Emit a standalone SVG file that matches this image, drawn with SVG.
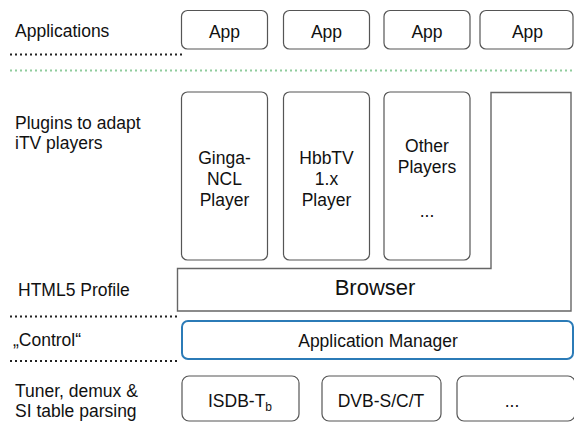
<svg xmlns="http://www.w3.org/2000/svg" width="574" height="422" viewBox="0 0 574 422">
<style>
text{font-family:"Liberation Sans",Arial,Helvetica,sans-serif;font-size:17.5px;fill:#111}
.c{text-anchor:middle}
.box{fill:#fff;stroke:#555;stroke-width:1.2}
.dotk{stroke:#222;stroke-width:2;stroke-dasharray:2 3;fill:none}
.dotg{stroke:#8fcc9c;stroke-width:2;stroke-dasharray:2 3;fill:none}
</style>
<rect width="574" height="422" fill="#fff"/>
<g id="separators">
<line class="dotk" x1="10" y1="54.5" x2="183" y2="54.5"/>
<line class="dotg" x1="10" y1="70.5" x2="574" y2="70.5"/>
<line class="dotk" x1="10" y1="316.5" x2="178" y2="316.5"/>
<line class="dotk" x1="10" y1="361" x2="178" y2="361"/>
</g>
<g id="layer-labels">
<text x="15" y="37">Applications</text>
<text x="15" y="129">Plugins to adapt</text>
<text x="15" y="149">iTV players</text>
<text x="18" y="296">HTML5 Profile</text>
<text x="13" y="346">„Control“</text>
<text x="15" y="396.5">Tuner, demux &amp;</text>
<text x="15" y="416.5">SI table parsing</text>
</g>
<g id="app1"><rect class="box" x="181.5" y="10.5" width="86" height="38.5" rx="6"/><text class="c" x="224.5" y="37.5">App</text></g>
<g id="app2"><rect class="box" x="283.5" y="10.5" width="86" height="38.5" rx="6"/><text class="c" x="326.5" y="37.5">App</text></g>
<g id="app3"><rect class="box" x="384" y="10.5" width="86" height="38.5" rx="6"/><text class="c" x="427" y="37.5">App</text></g>
<g id="app4"><rect class="box" x="480" y="10.5" width="93" height="38.5" rx="6"/><text class="c" x="527.5" y="37.5">App</text></g>
<g id="ginga"><rect class="box" x="181.5" y="92" width="86" height="168" rx="6"/>
<text class="c" x="224.5" y="163.5">Ginga-</text><text class="c" x="224.5" y="184.5">NCL</text><text class="c" x="224.5" y="205.5">Player</text></g>
<g id="hbbtv"><rect class="box" x="283.5" y="92" width="86" height="168" rx="6"/>
<text class="c" x="326.5" y="163.5">HbbTV</text><text class="c" x="326.5" y="184.5">1.x</text><text class="c" x="326.5" y="205.5">Player</text></g>
<g id="other"><rect class="box" x="384" y="92" width="86" height="168" rx="6"/>
<text class="c" x="427" y="151.5">Other</text><text class="c" x="427" y="172.5">Players</text><text class="c" x="427" y="216.5">...</text></g>
<g id="browser"><path d="M177.5,268.5 H491 V92.5 H571 V311 H177.5 Z" fill="#fff" stroke="#666" stroke-width="1.4"/>
<text class="c" x="375" y="295" style="font-size:22px">Browser</text></g>
<g id="appmanager"><rect x="182" y="321" width="391" height="38" rx="6" fill="#fff" stroke="#2b7bb7" stroke-width="2"/>
<text class="c" x="378" y="346.5">Application Manager</text></g>
<g id="isdb"><rect class="box" x="182" y="376" width="117" height="45" rx="7"/>
<text class="c" x="240" y="406.5">ISDB-T<tspan dy="4" style="font-size:12px">b</tspan></text></g>
<g id="dvb"><rect class="box" x="322" y="376" width="119" height="45" rx="7"/>
<text class="c" x="381" y="406.5">DVB-S/C/T</text></g>
<g id="more"><rect class="box" x="457" y="376" width="118" height="45" rx="7"/>
<text class="c" x="512" y="406.5">...</text></g>
<g id="connectors"/>
</svg>
